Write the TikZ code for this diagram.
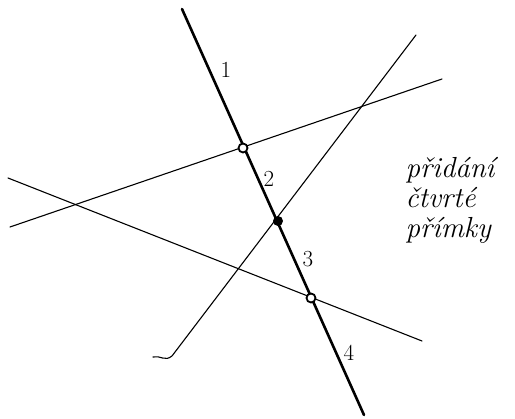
\documentclass[tikz,border=0pt]{standalone}
\usetikzlibrary{calc}
\begin{document}
\begin{tikzpicture}[x=1pt,y=-1pt,
  thickline/.style={line width=2.6pt,line cap=round},
  thinline/.style={line width=1.1pt,line cap=round},
  ptopen/.style={circle,draw,line width=1.8pt,minimum size=9pt,inner sep=0pt,fill=white},
  ptfull/.style={circle,fill=black,minimum size=10pt,inner sep=0pt},
  numlbl/.style={font=\fontsize{23}{23}\selectfont},
  hand/.style={font=\itshape\fontsize{29}{30}\selectfont,align=left}]
\useasboundingbox (0,0) rectangle (515,419);
% endpoints
\coordinate (t1) at (182,9);
\coordinate (t2) at (364,415);
\coordinate (a1) at (10,227);
\coordinate (a2) at (442,79);
\coordinate (b1) at (8,178);
\coordinate (b2) at (422,341);
\coordinate (c1) at (172,356);
\coordinate (c2) at (416,35);
\coordinate (h1) at (153,357);
% lines
\draw[thinline] (a1) -- (a2);
\draw[thinline] (b1) -- (b2);
\draw[thinline] (c2) -- (c1) .. controls (165,362) and (160,355) .. (h1);
\draw[thickline] (t1) -- (t2);
% intersection points
\node[ptopen] (p1) at (243,148) {};
\node[ptfull] (p2) at (278,221) {};
\node[ptopen] (p3) at (311,298) {};
% labels
\node[numlbl] (n1) at (226,70) {1};
\node[numlbl] (n2) at (269,179) {2};
\node[numlbl] (n3) at (308,259) {3};
\node[numlbl] (n4) at (349,353) {4};
\node[hand] (txt) at (450,200) {p\v{r}id\'an\'{\i}\\ \v{c}tvrt\'e\\ p\v{r}\'{\i}mky};
\end{tikzpicture}
\end{document}
